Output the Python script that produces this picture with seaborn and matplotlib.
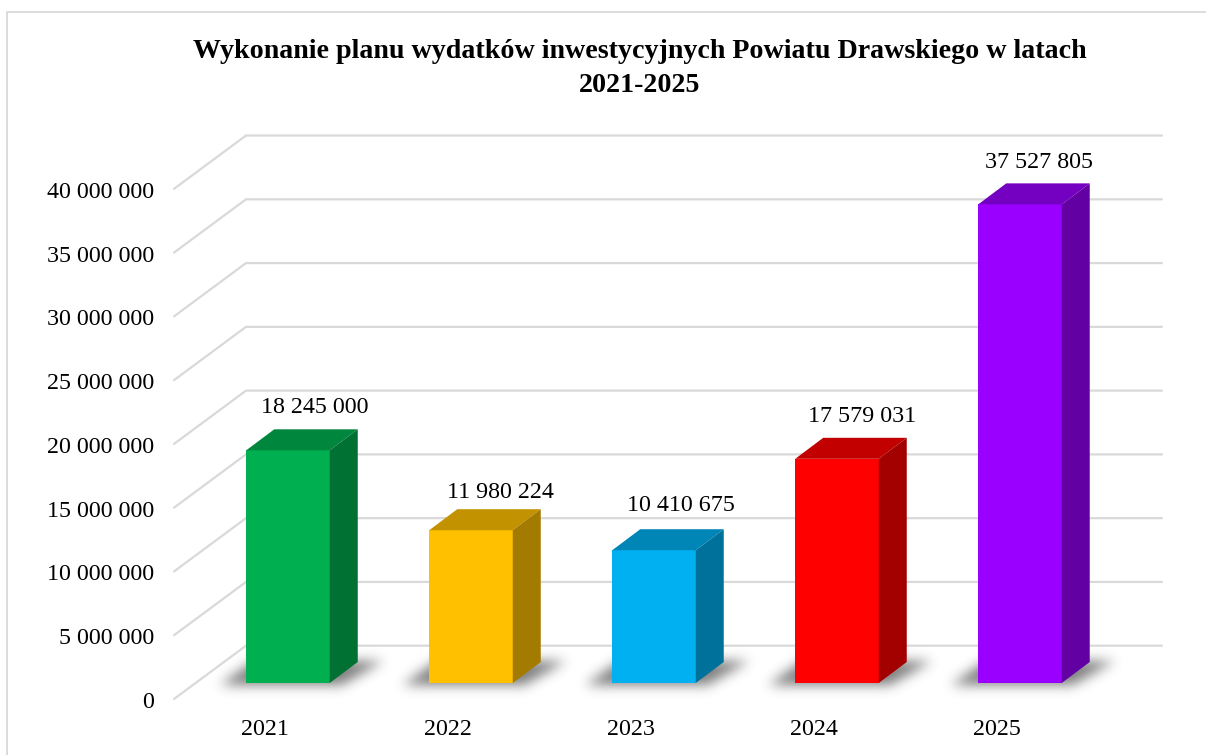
import matplotlib
matplotlib.use("Agg")
import matplotlib.pyplot as plt
import matplotlib.transforms as mtrans
from matplotlib.lines import Line2D
from matplotlib.patches import Polygon
from matplotlib.path import Path
from matplotlib.ticker import FuncFormatter
import numpy as np
import seaborn as sns

years = ["2021", "2022", "2023", "2024", "2025"]
values = [18245000, 11980224, 10410675, 17579031, 37527805]
bar_colors = ["#00B050", "#FFC000", "#00B0F0", "#FF0000", "#9900FF"]
y_ticks = [0, 5000000, 10000000, 15000000, 20000000, 25000000, 30000000, 35000000, 40000000]
title = "Wykonanie planu wydatków inwestycyjnych Powiatu Drawskiego w latach\n2021-2025"

# label shift from the bar centre / bar top, in pixels
label_dx = [27, 29, 27, 25, 19]
label_dy = [43, 38, 45, 42, 42]

W, H = 1206, 755
PX_PER_CAT = 183.0
PX_PER_VAL = 63.77 / 5000000
FIRST_BAR_PX = 288.0
FLOOR_PX = 683.0
LEFT_PX, RIGHT_PX, TOP_PX, BOTTOM_PX = 174.0, 1162.0, 130.0, 699.0


def dx(px):
    return px / PX_PER_CAT


def dy(px):
    return px / PX_PER_VAL


def fmt(v, pos=None):
    return f"{v:,.0f}".replace(",", " ")


def shade(color, factor):
    return tuple(c * factor for c in matplotlib.colors.to_rgb(color))


def blur(a, sigma):
    t = np.arange(-int(3 * sigma), int(3 * sigma) + 1)
    k = np.exp(-t ** 2 / (2 * sigma ** 2))
    k = k / k.sum()
    a = np.apply_along_axis(lambda r: np.convolve(r, k, mode="same"), 0, a)
    return np.apply_along_axis(lambda r: np.convolve(r, k, mode="same"), 1, a)


sns.set_theme(style="white")
plt.rcParams["font.family"] = ["Liberation Serif", "DejaVu Serif"]

fig = plt.figure(figsize=(W / 100, H / 100), dpi=100, facecolor="white")
ax = fig.add_axes([LEFT_PX / W, 1 - BOTTOM_PX / H, (RIGHT_PX - LEFT_PX) / W, (BOTTOM_PX - TOP_PX) / H])
ax.patch.set_alpha(0)

sns.barplot(x=years, y=values, hue=years, palette=bar_colors, width=83.5 / PX_PER_CAT,
            saturation=1, legend=False, ax=ax, zorder=5)
xlim = ((LEFT_PX - FIRST_BAR_PX) / PX_PER_CAT, (RIGHT_PX - FIRST_BAR_PX) / PX_PER_CAT)
ylim = (dy(FLOOR_PX - BOTTOM_PX), dy(FLOOR_PX - TOP_PX))
ax.set_xlim(xlim)
ax.set_ylim(ylim)

# walls: front edge of the side wall, then the back wall
grid_c = "#D9D9D9"
for v in y_ticks:
    ax.plot([xlim[0], xlim[0] + dx(72), xlim[1]],
            [v + dy(-16), v + dy(37.3), v + dy(37.3)],
            color=grid_c, lw=1.6, zorder=1, clip_on=False, solid_joinstyle="miter")

# grid of pixel centres for the floor shadows
nx, ny = int(RIGHT_PX - LEFT_PX), int(BOTTOM_PX - TOP_PX)
gx = np.linspace(xlim[0], xlim[1], nx)
gy = np.linspace(ylim[1], ylim[0], ny)
pts = np.column_stack([m.ravel() for m in np.meshgrid(gx, gy)])
mask = np.zeros(pts.shape[0], dtype=bool)

depth_x, depth_y = dx(28), dy(21)
for bar, color in zip(ax.patches, bar_colors):
    x0, x1 = bar.get_x(), bar.get_x() + bar.get_width()
    top = bar.get_height()
    bar.set_edgecolor("none")
    # top and side faces
    ax.add_patch(Polygon([(x0, top), (x1, top), (x1 + depth_x, top + depth_y), (x0 + depth_x, top + depth_y)],
                         facecolor=shade(color, 0.76), edgecolor="none", zorder=5))
    ax.add_patch(Polygon([(x1, 0), (x1 + depth_x, depth_y), (x1 + depth_x, top + depth_y), (x1, top)],
                         facecolor=shade(color, 0.64), edgecolor="none", zorder=5))
    corners = [(x0 - dx(26), dy(-2)), (x1 + dx(12), dy(-2)),
               (x1 + dx(54), dy(22)), (x0 + dx(8), dy(22))]
    mask |= Path(corners).contains_points(pts)

shadow = blur(mask.reshape(ny, nx).astype(float), 6.0)
rgba = np.zeros((ny, nx, 4))
rgba[..., :3] = 0.25
rgba[..., 3] = shadow * 0.68
ax.imshow(rgba, extent=(xlim[0], xlim[1], ylim[0], ylim[1]), aspect="auto", zorder=3, interpolation="bilinear")
ax.set_xlim(xlim)
ax.set_ylim(ylim)

for i, v in enumerate(values):
    ax.annotate(fmt(v), xy=(i, v), xytext=(label_dx[i], label_dy[i]), textcoords="offset pixels",
                ha="center", va="center", fontsize=17.3, color="black", zorder=6)

ax.set_yticks(y_ticks)
ax.yaxis.set_major_formatter(FuncFormatter(fmt))
ax.tick_params(axis="y", length=0, pad=14.4, labelsize=17.3, labelcolor="black")
ax.tick_params(axis="x", length=0, pad=14.5, labelsize=17.3, labelcolor="black")
ax.set_xlabel("")
ax.set_ylabel("")
sns.despine(ax=ax, left=True, bottom=True)

# tick labels sit on the front plane, not on the bars' plane
x_shift = mtrans.ScaledTranslation(-23 / 100, 0, fig.dpi_scale_trans)
y_shift = mtrans.ScaledTranslation(0, -17 / 100, fig.dpi_scale_trans)
for lab in ax.get_xticklabels():
    lab.set_transform(lab.get_transform() + x_shift)
for lab in ax.get_yticklabels():
    lab.set_transform(lab.get_transform() + y_shift)

fig.text(639.5 / W, 1 - 68.5 / H, title, ha="center", va="center", fontsize=20.2,
         fontweight="bold", color="black", linespacing=1.43)

# chart frame, only top and left edges fall inside the crop
fig.add_artist(Line2D([6.5 / W, 6.5 / W, 1], [0, 1 - 12 / H, 1 - 12 / H], color=grid_c, lw=1.3))

fig.savefig("out.png", dpi=100, facecolor="white")
